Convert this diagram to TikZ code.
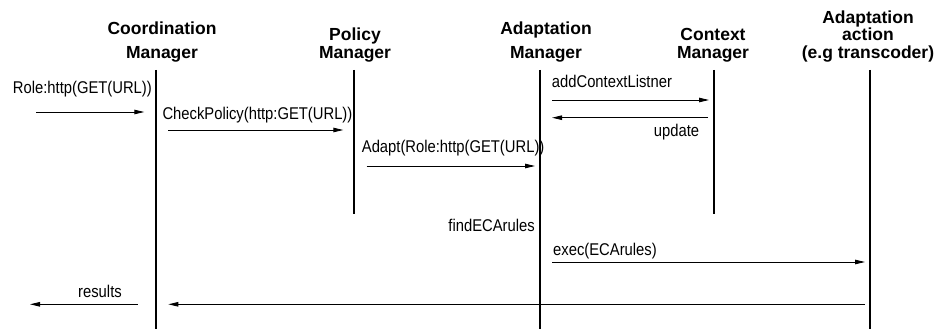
\documentclass[tikz,border=0pt]{standalone}
\usepackage{fontspec}
\usetikzlibrary{arrows.meta}
\newfontfamily\headfont{Liberation Sans}
\newfontfamily\lblfont{Liberation Sans}[FakeStretch=0.87]
\tikzset{
  head/.style={font=\headfont\bfseries\fontsize{17.5}{23.5}\selectfont, align=center, anchor=south, inner sep=0pt},
  headtight/.style={head, font=\headfont\bfseries\fontsize{17.5}{17.5}\selectfont},
  lbl/.style={font=\lblfont\fontsize{17}{18}\selectfont, anchor=base west, inner sep=0pt},
  lifeline/.style={line width=1.6pt},
  msg/.style={line width=0.9pt, -{Triangle[length=10pt,width=4.5pt]}}
}
\begin{document}
\begin{tikzpicture}[x=1pt, y=-1pt]
    \useasboundingbox (0,0) rectangle (940,329);

    % Cabeçalhos
    \node[head] (cmh) at (162,62) {Coordination\\Manager};
    \node[headtight] (pmh) at (355,62) {Policy\\Manager};
    \node[head] (amh) at (546,62) {Adaptation\\Manager};
    \node[headtight] (ctxh) at (713,62) {Context\\Manager};
    \node[headtight] (acth) at (868,62) {Adaptation\\action\\(e.g transcoder)};

    % Linhas de vida
    \coordinate (cmt) at (156,70);   \coordinate (cmb) at (156,329);
    \coordinate (pmt) at (354,70);   \coordinate (pmb) at (354,214);
    \coordinate (amt) at (540,70);   \coordinate (amb) at (540,329);
    \coordinate (ctxt) at (714,70);  \coordinate (ctxb) at (714,214);
    \coordinate (actt) at (870,70);  \coordinate (actb) at (870,329);
    \draw[lifeline] (cmt) -- (cmb);
    \draw[lifeline] (pmt) -- (pmb);
    \draw[lifeline] (amt) -- (amb);
    \draw[lifeline] (ctxt) -- (ctxb);
    \draw[lifeline] (actt) -- (actb);

    % Rótulos
    \node[lbl] (role) at (12.7,93.3) {Role:http(GET(URL))};
    \node[lbl] (chk) at (162.3,119.5) {CheckPolicy(http:GET(URL))};
    \node[lbl] (adp) at (361.7,152) {Adapt(Role:http(GET(URL))};
    \node[lbl] (addctx) at (551.7,87.3) {addContextListner};
    \node[lbl, anchor=base east] (upd) at (699.3,136.5) {update};
    \node[lbl, anchor=base east] (find) at (535,231) {findECArules};
    \node[lbl] (exe) at (553,255) {exec(ECArules)};
    \node[lbl] (res) at (78,297.3) {results};

    % Pontas das mensagens
    \coordinate (rolea) at (36,112);     \coordinate (roleb) at (144.3,112);
    \coordinate (chka) at (168.3,130);   \coordinate (chkb) at (343.3,130);
    \coordinate (adpa) at (366.7,166);   \coordinate (adpb) at (535,166);
    \coordinate (adda) at (552.3,100);   \coordinate (addb) at (709,100);
    \coordinate (upda) at (708,117.7);   \coordinate (updb) at (552,117.7);
    \coordinate (exea) at (552.3,262);   \coordinate (exeb) at (865,262);
    \coordinate (reta) at (865,304.3);   \coordinate (retb) at (168.3,304.3);
    \coordinate (resa) at (137.7,304.3); \coordinate (resb) at (30,304.3);

    % Mensagens
    \draw[msg] (rolea) -- (roleb);
    \draw[msg] (chka) -- (chkb);
    \draw[msg] (adpa) -- (adpb);
    \draw[msg] (adda) -- (addb);
    \draw[msg] (upda) -- (updb);
    \draw[msg] (exea) -- (exeb);
    \draw[msg] (reta) -- (retb);
    \draw[msg] (resa) -- (resb);

\end{tikzpicture}
\end{document}
